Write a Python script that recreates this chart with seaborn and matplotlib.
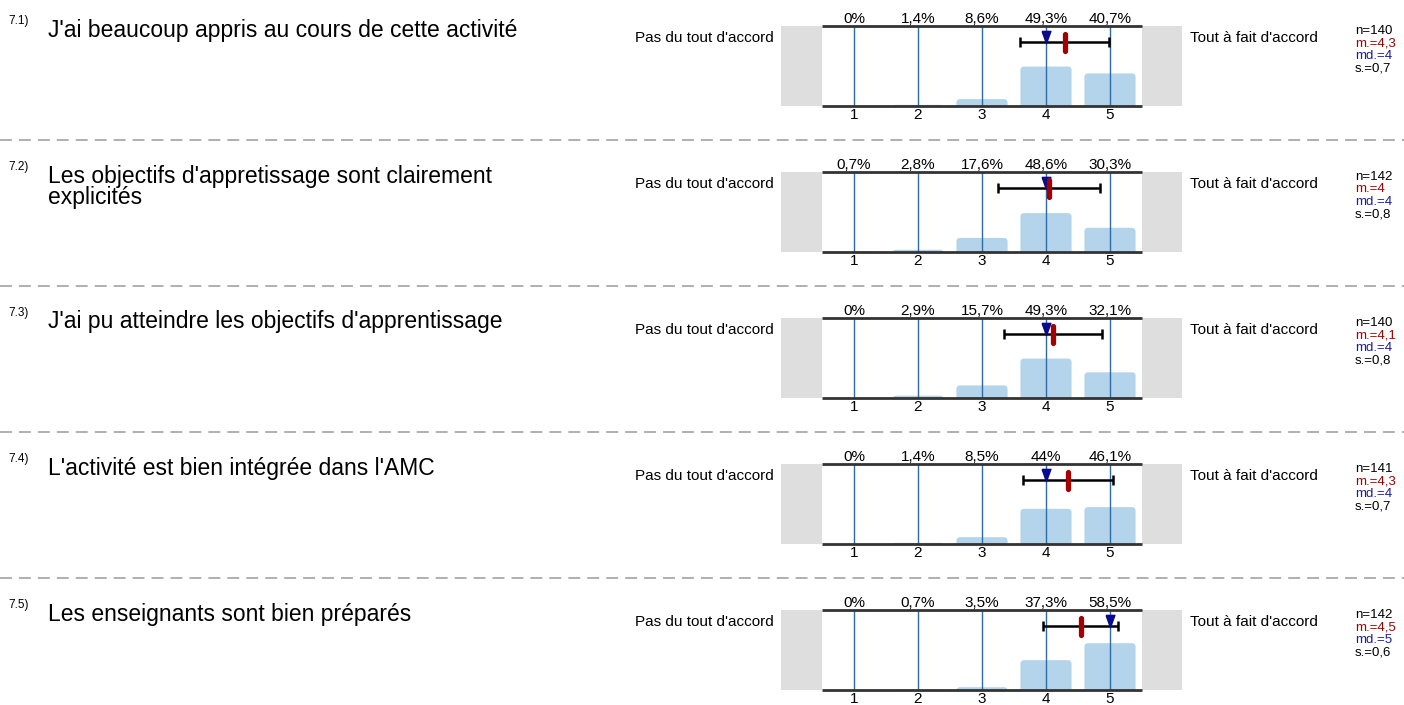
import matplotlib
matplotlib.use("Agg")
import matplotlib.pyplot as plt
import seaborn as sns
import pandas as pd
from matplotlib.patches import FancyBboxPatch

sns.set_theme(style="white")
plt.rcParams['font.family'] = ['Liberation Sans', 'DejaVu Sans']

numbers = ["7.1)", "7.2)", "7.3)", "7.4)", "7.5)"]
questions = [
    "J'ai beaucoup appris au cours de cette activité",
    "Les objectifs d'appretissage sont clairement\nexplicités",
    "J'ai pu atteindre les objectifs d'apprentissage",
    "L'activité est bien intégrée dans l'AMC",
    "Les enseignants sont bien préparés",
]
scale = [1, 2, 3, 4, 5]
pct_q1 = [0, 1.4, 8.6, 49.3, 40.7]
pct_q2 = [0.7, 2.8, 17.6, 48.6, 30.3]
pct_q3 = [0, 2.9, 15.7, 49.3, 32.1]
pct_q4 = [0, 1.4, 8.5, 44, 46.1]
pct_q5 = [0, 0.7, 3.5, 37.3, 58.5]
pct_all = [pct_q1, pct_q2, pct_q3, pct_q4, pct_q5]
n_vals = [140, 142, 140, 141, 142]
means = [4.29, 4.05, 4.11, 4.34, 4.54]
medians = [4, 4, 4, 4, 5]
sds = [0.7, 0.8, 0.77, 0.7, 0.59]
left_label = "Pas du tout d'accord"
right_label = "Tout à fait d'accord"

W, H = 1404, 705
fig = plt.figure(figsize=(W / 100, H / 100), dpi=100)

def fmt(v):
    s = f"{v:.1f}".replace(".", ",")
    if s.endswith(",0"):
        s = s[:-2]
    return s

BAR = "#b3d4ea"
VLINE = "#2d6aa8"
RED = "#a50000"
NAVY = "#0a0a8c"

ax_left_px, ax_right_px = 781, 1182
top0 = 26
step = 146
ph = 80
PX = 100 / ph  # data units per pixel (vertical)

tri = [(-0.36, 0.5), (0.36, 0.5), (0, -0.5), (-0.36, 0.5)]

for i in range(5):
    top = top0 + i * step
    ax = fig.add_axes([ax_left_px / W, 1 - (top + ph) / H,
                       (ax_right_px - ax_left_px) / W, ph / H])
    df = pd.DataFrame({"x": scale, "pct": pct_all[i]})
    sns.barplot(data=df, x="x", y="pct", native_scale=True, color=BAR,
                saturation=1, width=0.8, ax=ax, zorder=1)
    # round top corners of bars
    for p in list(ax.patches):
        x0, w, h = p.get_x(), p.get_width(), p.get_height()
        p.remove()
        if h <= 0:
            continue
        fb = FancyBboxPatch((x0, -6), w, h + 6,
                            boxstyle="round,pad=0,rounding_size=0.06",
                            mutation_aspect=64 / 0.8, facecolor=BAR,
                            edgecolor="none", zorder=1, clip_on=True)
        ax.add_patch(fb)
    ax.set_xlim(0.5 - 41 / 64, 5.5 + 40 / 64)
    ax.set_ylim(0, 100)
    ax.axvspan(0.5 - 41 / 64, 0.5, color="#dedede", zorder=0, lw=0)
    ax.axvspan(5.5, 5.5 + 40 / 64, color="#dedede", zorder=0, lw=0)
    ax.vlines(scale, 0, 100, color=VLINE, lw=1, zorder=2)
    ax.hlines([0, 100], 0.5, 5.5, color="#333333", lw=2, zorder=4, clip_on=False)
    # error bar (mean +/- sd)
    ey = 100 - 16.3 * PX
    m, s = means[i], sds[i]
    ax.plot([m - s, m + s], [ey, ey], color="black", lw=1.8, zorder=5,
            solid_capstyle="butt")
    ax.plot([m - s, m + s], [ey, ey], color="black", marker="|", ms=7.5,
            mew=1.8, lw=0, zorder=5)
    ax.plot([medians[i]], [ey + 5.5 * PX], marker=tri, color=NAVY, ms=8.8,
            lw=0, zorder=6)
    ax.plot([m, m], [ey - 8.5 * PX, ey + 8.5 * PX], color=RED, lw=3.8,
            solid_capstyle="round", zorder=7)
    for sp in ax.spines.values():
        sp.set_visible(False)
    ax.set_xticks([])
    ax.set_yticks([])
    ax.set_xlabel("")
    ax.set_ylabel("")
    for x, v in zip(scale, pct_all[i]):
        ax.text(x, 100 + 3 * PX, fmt(v) + "%", ha="center", va="baseline",
                fontsize=11, color="black")
        ax.text(x, -3, str(x), ha="center", va="top", fontsize=11,
                color="black")
    ly = 100 - 15.7 * PX
    ax.text(0.5 - 41 / 64 - 0.12, ly, left_label, ha="right", va="baseline",
            fontsize=11, color="black")
    ax.text(5.5 + 40 / 64 + 0.12, ly, right_label, ha="left", va="baseline",
            fontsize=11, color="black")
    # stats
    sx = 1355 / W
    sy = 1 - (top - 1) / H
    lines = [(f"n={n_vals[i]}", "black"), (f"m.={fmt(means[i])}", RED),
             (f"md.={medians[i]}", "#1a1aa8"), (f"s.={fmt(sds[i])}", "black")]
    for k, (t, c) in enumerate(lines):
        fig.text(sx, sy - k * 12.4 / H, t, ha="left", va="top", fontsize=9.5,
                 color=c)
    # question
    fig.text(8 / W, 1 - (top - 2) / H, numbers[i], fontsize=8.5,
             ha="left", va="baseline", color="black")
    for k, line in enumerate(questions[i].split("\n")):
        fig.text(48 / W, 1 - (top + 10.5 + 22 * k) / H, line, fontsize=16.5,
                 ha="left", va="baseline", color="black")
    if i < 4:
        yy = 1 - (top + 114) / H
        fig.add_artist(plt.Line2D([0, 1], [yy, yy], color="#9a9a9a", lw=1.1,
                                  linestyle=(0, (7.8, 4.6)),
                                  transform=fig.transFigure))

fig.savefig("out.png", dpi=100)
